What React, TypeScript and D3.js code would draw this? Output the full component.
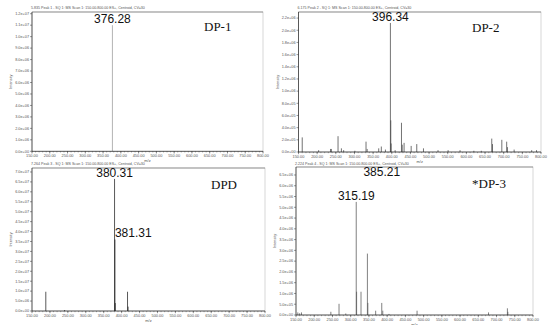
import { useEffect, useRef } from 'react';
import * as d3 from 'd3';

// m/z axis, shared by the four spectra
const mzTicks = [150, 200, 250, 300, 350, 400, 450, 500, 550, 600, 650, 700, 750, 800];

// [m/z, intensity]
const dp1Peaks: [number, number][] = [[376.28, 1.1e7]];

const dp2Peaks: [number, number][] = [
  [160, 2.4e5], [204, 3e4], [236, 5e4], [238, 5e4], [256, 2.6e5], [265, 6e4], [271, 3e4],
  [301, 2e4], [331, 1.7e5], [334, 5e4], [365, 6e4], [372, 9e4], [383, 4e4],
  [396.34, 2.12e6], [397.34, 5.2e5], [398.3, 1.4e5], [409, 3e4], [426, 4.8e5], [428, 1.2e5],
  [433, 1.5e5], [452, 1.0e5], [467, 1.3e5], [485, 6e4], [524, 3e4], [551, 3e4], [583, 3e4],
  [620, 2e4], [640, 2e4], [668, 2.2e5], [670, 1.3e5], [695, 2.0e5], [708, 1.7e5], [710, 8e4],
  [728, 4e4], [775, 3e4], [788, 3e4],
];

const dpdPeaks: [number, number][] = [
  [188.5, 9.7e6], [241, 5e5], [380.31, 6.65e7], [381.31, 3.6e7], [382.3, 4e6],
  [416.5, 9.7e6], [418, 2.2e6],
];

const dp3Peaks: [number, number][] = [
  [155, 1.2e5], [160, 8e4], [165, 1.2e5], [245.6, 1.5e5], [268, 5.2e5], [286.5, 7e4],
  [315.19, 5.25e6], [316.2, 1.08e6], [328.3, 1.08e6], [345.8, 2.85e6], [347, 5.6e5],
  [368.5, 2e5], [385.21, 5.6e5], [388, 2e5], [405, 5e4], [482, 2e5], [678, 1.2e5],
  [729.8, 3.1e5], [731, 1.5e5],
];

// peak annotations: text, m/z, intensity where the label sits
const dp1Notes = [{ text: '376.28', mz: 376.28, at: 1.12e7 }];
const dp2Notes = [{ text: '396.34', mz: 396.34, at: 2.155e6 }];
const dpdNotes = [{ text: '380.31', mz: 380.31, at: 6.75e7 }, { text: '381.31', mz: 381.31, at: 3.73e7, start: true }];
const dp3Notes = [{ text: '385.21', mz: 385.21, at: 6.45e6 }, { text: '315.19', mz: 315.19, at: 5.36e6 }];

const dp1YTicks = [0, 1e6, 2e6, 3e6, 4e6, 5e6, 6e6, 7e6, 8e6, 9e6, 1e7, 1.1e7, 1.2e7];
const dp2YTicks = [0, 2e5, 4e5, 6e5, 8e5, 1e6, 1.2e6, 1.4e6, 1.6e6, 1.8e6, 2e6, 2.2e6];
const dpdYTicks = [0, 5e6, 1e7, 1.5e7, 2e7, 2.5e7, 3e7, 3.5e7, 4e7, 4.5e7, 5e7, 5.5e7, 6e7, 6.5e7, 7e7];
const dp3YTicks = [0, 5e5, 1e6, 1.5e6, 2e6, 2.5e6, 3e6, 3.5e6, 4e6, 4.5e6, 5e6, 5.5e6, 6e6, 6.5e6];

const headers = [
  '5.835 Peak 1 - SQ 1: MS Scan 1: 150.00-800.00 ES+, Centroid, CV=30',
  '6.175 Peak 2 - SQ 1: MS Scan 1: 150.00-800.00 ES+, Centroid, CV=30',
  '7.264 Peak 3 - SQ 1: MS Scan 1: 150.00-800.00 ES+, Centroid, CV=30',
  '2.224 Peak 4 - SQ 1: MS Scan 1: 150.00-800.00 ES+, Centroid, CV=30',
];
const titles = ['DP-1', 'DP-2', 'DPD', '*DP-3'];

const panels = [
  { peaks: dp1Peaks, notes: dp1Notes, yTicks: dp1YTicks, yMax: 1.215e7, l: 32, r: 263, t: 12, b: 151.3, hy: 9, tx: 204, ty: 30.7, ink: '#9a9a9a' },
  { peaks: dp2Peaks, notes: dp2Notes, yTicks: dp2YTicks, yMax: 2.3e6, l: 298.5, r: 541, t: 12, b: 152, hy: 9, tx: 472, ty: 31.7, ink: '#444' },
  { peaks: dpdPeaks, notes: dpdNotes, yTicks: dpdYTicks, yMax: 7.2e7, l: 32, r: 265, t: 168, b: 311, hy: 165, tx: 211, ty: 189, ink: '#222' },
  { peaks: dp3Peaks, notes: dp3Notes, yTicks: dp3YTicks, yMax: 6.87e6, l: 296, r: 533, t: 167, b: 315, hy: 164.5, tx: 472, ty: 187.5, ink: '#555' },
];

const sci = (v: number) => v.toExponential(1).replace(/e([+-])(\d)$/, 'e$10$2');

export default function App() {
  const ref = useRef<SVGSVGElement>(null);

  useEffect(() => {
    const svg = d3.select(ref.current);
    svg.selectAll('*').remove();
    const small = 'Liberation Sans, Arial, sans-serif';

    panels.forEach((p, i) => {
      const x = d3.scaleLinear().domain([150, 800]).range([p.l, p.r]);
      const y = d3.scaleLinear().domain([0, p.yMax]).range([p.b, p.t]);
      const g = svg.append('g');

      // header line
      g.append('text').attr('x', p.l - 1).attr('y', p.hy)
        .style('font-family', small).style('font-size', '3.6px').attr('fill', '#555')
        .text(headers[i]);

      // frame
      g.append('rect').attr('x', p.l).attr('y', p.t).attr('width', p.r - p.l).attr('height', p.b - p.t)
        .attr('fill', 'none').attr('stroke', '#bbb').attr('stroke-width', 0.6);
      g.append('line').attr('x1', p.l).attr('x2', p.r).attr('y1', p.t).attr('y2', p.t)
        .attr('stroke', '#666').attr('stroke-width', 0.6);

      // peaks
      g.selectAll('line.pk').data(p.peaks).enter().append('line')
        .attr('class', 'pk')
        .attr('x1', d => x(d[0])).attr('x2', d => x(d[0]))
        .attr('y1', p.b).attr('y2', d => y(d[1]))
        .attr('stroke', p.ink).attr('stroke-width', 0.75);

      // x axis
      const minor = d3.range(150, 801, 10);
      g.selectAll('line.mn').data(minor).enter().append('line')
        .attr('x1', d => x(d)).attr('x2', d => x(d)).attr('y1', p.b).attr('y2', p.b + 1.2)
        .attr('stroke', '#444').attr('stroke-width', 0.4);
      g.selectAll('line.mj').data(mzTicks).enter().append('line')
        .attr('x1', d => x(d)).attr('x2', d => x(d)).attr('y1', p.b).attr('y2', p.b + 2.2)
        .attr('stroke', '#333').attr('stroke-width', 0.5);
      g.selectAll('text.xl').data(mzTicks).enter().append('text')
        .attr('x', d => x(d)).attr('y', p.b + 5.8).attr('text-anchor', 'middle')
        .style('font-family', small).style('font-size', '3.9px').attr('fill', '#555')
        .text(d => d.toFixed(2));
      g.append('text').attr('x', (p.l + p.r) / 2).attr('y', p.b + 10.5).attr('text-anchor', 'middle')
        .style('font-family', small).style('font-size', '3.9px').attr('fill', '#555').text('m/z');
      g.append('line').attr('x1', p.l).attr('x2', p.r).attr('y1', p.b).attr('y2', p.b)
        .attr('stroke', '#222').attr('stroke-width', 0.7);

      // y axis
      g.append('line').attr('x1', p.l).attr('x2', p.l).attr('y1', p.t).attr('y2', p.b)
        .attr('stroke', '#222').attr('stroke-width', 0.7);
      g.selectAll('line.yt').data(p.yTicks).enter().append('line')
        .attr('x1', p.l - 2).attr('x2', p.l).attr('y1', d => y(d)).attr('y2', d => y(d))
        .attr('stroke', '#333').attr('stroke-width', 0.5);
      g.selectAll('text.yl').data(p.yTicks).enter().append('text')
        .attr('x', p.l - 3).attr('y', d => y(d) + 1.3).attr('text-anchor', 'end')
        .style('font-family', small).style('font-size', '3.8px').attr('fill', '#555')
        .text(d => sci(d));
      g.append('text')
        .attr('transform', `translate(${p.l - 20},${(p.t + p.b) / 2}) rotate(-90)`)
        .attr('text-anchor', 'middle')
        .style('font-family', small).style('font-size', '3.8px').attr('fill', '#555').text('Intensity');

      // peak labels
      p.notes.forEach((n: any) => {
        g.append('text').attr('x', x(n.mz)).attr('y', y(n.at))
          .attr('text-anchor', n.start ? 'start' : 'middle')
          .style('font-family', small).style('font-size', '12px').attr('fill', '#111')
          .text(n.text);
      });

      g.append('text').attr('x', p.tx).attr('y', p.ty)
        .style('font-family', 'Liberation Serif, Times New Roman, serif').style('font-size', '13px')
        .attr('fill', '#111').text(titles[i]);
    });
  }, []);

  return (
    <svg ref={ref} width={550} height={325}
      style={{ position: 'fixed', left: 0, top: 0, background: '#fff' }} />
  );
}
